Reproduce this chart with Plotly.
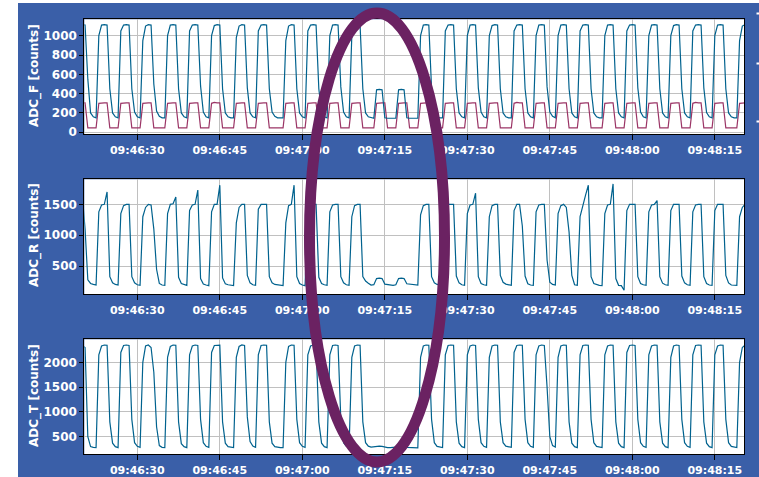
import numpy as np
import pandas as pd
import plotly.graph_objects as go

# ---------------- data (sampled every 0.5 s from 09:46:20.0) ----------------
START = "2010-06-01 09:46:20"
STEP_S = 0.5
X_RANGE = ["2010-06-01 09:46:20.36", "2010-06-01 09:48:20.36"]
TICK0 = "2010-06-01 09:46:00"

adc_f = [
    1115, 1110, 550, 200, 160, 150,
    1000, 1110, 1115, 1110, 450, 200, 160, 150,
    1050, 1110, 1115, 1110, 450, 210, 160, 150,
    950, 1100, 1115, 1110, 500, 220, 165, 150, 150,
    1000, 1110, 1115, 1110, 450, 200, 160, 150,
    1050, 1110, 1115, 1110, 480, 210, 160, 150,
    1000, 1105, 1115, 1110, 450, 200, 160, 150, 150,
    980, 1100, 1115, 1110, 460, 200, 160, 150,
    1050, 1110, 1115, 1110, 450, 210, 165, 150, 150, 150,
    950, 1100, 1115, 1110, 450, 200, 160, 150,
    1050, 1110, 1115, 1110, 450, 200, 160, 150,
    1000, 1110, 1115, 1110, 470, 210, 160, 150,
    1000, 1110, 1115, 1110, 450, 200, 160, 150, 145,
    440, 445, 440, 150, 145, 145, 145, 145,
    440, 445, 440, 150, 145, 145, 145, 145,
    1000, 1110, 1115, 1110, 450, 200, 160, 150, 150,
    1050, 1110, 1115, 1110, 450, 200, 160, 150,
    1000, 1110, 1115, 1110, 460, 210, 160, 150,
    1000, 1105, 1115, 1110, 450, 200, 160, 150, 150,
    1050, 1110, 1115, 1110, 450, 200, 160, 150,
    1000, 1110, 1115, 1110, 470, 210, 165, 150,
    1000, 1110, 1115, 1110, 450, 200, 160, 150,
    1050, 1110, 1115, 1110, 450, 200, 160, 150, 150,
    1000, 1110, 1115, 1110, 450, 200, 160, 150,
    1050, 1110, 1115, 1110, 460, 210, 160, 150,
    1000, 1110, 1115, 1110, 450, 200, 160, 150,
    1000, 1105, 1115, 1110, 450, 200, 160, 150,
    1050, 1110, 1115, 1110, 460, 205, 160, 150,
    1000, 1110, 1115, 1110, 450, 200, 160, 150, 150,
    950, 1100, 1115, 1110,
]

adc_f_ref = [
    305, 305, 45, 45, 45, 45,
    300, 305, 305, 305, 45, 45, 45, 45,
    300, 305, 305, 305, 45, 45, 45, 45,
    300, 305, 305, 305, 45, 45, 45, 45, 45,
    300, 305, 305, 305, 45, 45, 45, 45,
    300, 305, 305, 305, 45, 45, 45, 45,
    300, 310, 305, 305, 45, 45, 45, 45, 45,
    300, 305, 305, 305, 45, 45, 45, 45,
    300, 305, 305, 305, 45, 45, 45, 45, 45, 45,
    300, 305, 305, 305, 45, 45, 45, 45,
    300, 305, 305, 305, 45, 45, 45, 45,
    300, 305, 305, 305, 45, 45, 45, 45,
    300, 305, 305, 305, 45, 45, 45, 45, 45,
    300, 305, 305, 305, 45, 45, 45, 45,
    300, 305, 305, 305, 45, 45, 45, 45,
    300, 305, 305, 305, 45, 45, 45, 45, 45,
    300, 305, 305, 305, 45, 45, 45, 45,
    300, 305, 305, 305, 45, 45, 45, 45,
    300, 305, 305, 305, 45, 45, 45, 45, 45,
    300, 310, 305, 305, 45, 45, 45, 45,
    300, 305, 305, 305, 45, 45, 45, 45,
    300, 305, 305, 305, 45, 45, 45, 45,
    300, 305, 305, 305, 45, 45, 45, 45, 45,
    300, 305, 305, 305, 45, 45, 45, 45,
    300, 305, 305, 305, 45, 45, 45, 45,
    300, 305, 305, 305, 45, 45, 45, 45,
    300, 305, 305, 305, 45, 45, 45, 45,
    300, 310, 305, 305, 45, 45, 45, 45,
    300, 305, 305, 305, 45, 45, 45, 45, 45,
    300, 305, 305, 305,
]

adc_r = [
    1650, 1100, 280, 220, 205, 195,
    1380, 1490, 1500, 1700, 330, 230, 205, 195,
    1350, 1480, 1500, 1500, 330, 230, 200, 190,
    1300, 1450, 1500, 1490, 1100, 450, 220, 195, 190,
    1350, 1500, 1510, 1620, 320, 220, 200, 190,
    1400, 1490, 1500, 1730, 300, 210, 195, 185,
    1380, 1500, 1500, 1810, 310, 215, 200, 190, 185,
    1200, 1450, 1500, 1500, 350, 230, 200, 190,
    1420, 1500, 1500, 1500, 330, 230, 205, 195, 190, 185,
    1200, 1480, 1500, 1810, 330, 220, 195, 185,
    1400, 1500, 1500, 1500, 320, 220, 200, 190,
    1380, 1490, 1500, 1500, 330, 230, 200, 190,
    1300, 1480, 1500, 1500, 330, 260, 225, 195, 200,
    300, 305, 300, 210, 205, 200, 190, 200,
    300, 305, 300, 215, 210, 205, 200, 195,
    1330, 1480, 1500, 1500, 330, 230, 205, 195, 190,
    1400, 1500, 1500, 1500, 340, 230, 200, 190,
    1350, 1490, 1500, 1680, 330, 220, 200, 190,
    1300, 1480, 1500, 1500, 350, 240, 210, 195, 190,
    1400, 1500, 1500, 1150, 340, 215, 195, 190,
    1380, 1490, 1500, 1500, 600, 240, 205, 195,
    1350, 1480, 1500, 1450, 1050, 350, 200, 190,
    1300, 1500, 1650, 1810, 330, 220, 200, 190, 185,
    1350, 1490, 1500, 1830, 300, 190, 185, 110,
    1400, 1500, 1500, 1500, 330, 220, 200, 190,
    1380, 1490, 1500, 1560, 330, 225, 200, 190,
    1400, 1500, 1500, 1500, 340, 230, 200, 190,
    1380, 1490, 1500, 1500, 330, 220, 195, 190,
    1400, 1500, 1500, 1500, 350, 230, 195, 190, 190,
    1300, 1450, 1500, 1500,
]

adc_t = [
    2340, 2300, 500, 300, 285, 280,
    2150, 2330, 2350, 2345, 800, 370, 300, 280,
    2200, 2340, 2350, 2340, 850, 380, 305, 285,
    2000, 2330, 2350, 2300, 1800, 700, 320, 285, 280,
    2100, 2320, 2350, 2345, 800, 360, 300, 280,
    2150, 2330, 2350, 2340, 850, 380, 305, 285,
    2200, 2340, 2350, 2345, 800, 370, 300, 285, 280,
    2100, 2320, 2350, 2340, 900, 400, 310, 285,
    2150, 2340, 2350, 2345, 800, 370, 300, 285, 280, 280,
    2000, 2320, 2350, 2345, 850, 380, 305, 285,
    2150, 2330, 2350, 2345, 800, 370, 300, 280,
    2150, 2340, 2350, 2340, 850, 380, 305, 285,
    2100, 2330, 2350, 2345, 800, 380, 310, 290, 300,
    310, 310, 305, 285, 280, 280, 285, 300,
    310, 310, 305, 285, 280, 280, 275, 275,
    2100, 2330, 2350, 2345, 850, 380, 305, 285, 280,
    2150, 2340, 2350, 2345, 800, 370, 300, 280,
    2150, 2330, 2350, 2340, 850, 380, 305, 285,
    2100, 2330, 2350, 2345, 800, 380, 310, 290, 285,
    2200, 2340, 2350, 2345, 850, 380, 305, 285,
    2150, 2330, 2350, 2340, 1500, 500, 320, 290,
    2100, 2330, 2350, 2345, 800, 370, 300, 280,
    2150, 2340, 2350, 2345, 850, 380, 305, 285, 280,
    2150, 2330, 2350, 2345, 800, 370, 300, 280,
    2200, 2340, 2350, 2340, 850, 380, 305, 285,
    2150, 2330, 2350, 2345, 800, 370, 300, 280,
    2100, 2330, 2350, 2340, 850, 380, 305, 285,
    2150, 2340, 2350, 2345, 800, 370, 300, 280,
    2150, 2330, 2350, 2345, 850, 380, 305, 285, 280,
    2000, 2300, 2350, 2350,
]

panel_titles = ["ADC_F [counts]", "ADC_R [counts]", "ADC_T [counts]"]
y_ranges = [[-21, 1170], [45, 1905], [145, 2465]]
y_dticks = [200, 500, 500]

# ---------------- styling ----------------
W, H = 759, 477
BG_BLUE = "#3A5FA8"
LINE_BLUE = "#00628E"
LINE_RED = "#9B3566"
GRID = "#C0C0C0"
FONT = "DejaVu Sans"


def times(values):
    return pd.Timestamp(START) + pd.to_timedelta(np.arange(len(values)) * STEP_S, unit="s")


def px_x(p):
    return p / W


def px_y(p):
    return 1 - p / H


# plot-area boxes in pixels: (left, right, top, bottom)
boxes = [(84.3, 744.3, 19.3, 134.3), (84.3, 744.3, 179.3, 294.3), (84.3, 744.3, 339.3, 454.3)]

fig = go.Figure()
fig.add_trace(go.Scatter(x=times(adc_f_ref), y=adc_f_ref, mode="lines",
                         line=dict(color=LINE_RED, width=1.2), xaxis="x", yaxis="y"))
fig.add_trace(go.Scatter(x=times(adc_f), y=adc_f, mode="lines",
                         line=dict(color=LINE_BLUE, width=1.2), xaxis="x", yaxis="y"))
fig.add_trace(go.Scatter(x=times(adc_r), y=adc_r, mode="lines",
                         line=dict(color=LINE_BLUE, width=1.2), xaxis="x2", yaxis="y2"))
fig.add_trace(go.Scatter(x=times(adc_t), y=adc_t, mode="lines",
                         line=dict(color=LINE_BLUE, width=1.2), xaxis="x3", yaxis="y3"))

xtickfont = dict(family=FONT, size=11, color="white", weight="bold")
ytickfont = dict(family=FONT, size=12, color="white", weight="bold")
layout = dict(
    width=W, height=H,
    margin=dict(l=0, r=0, t=0, b=0),
    paper_bgcolor=BG_BLUE, plot_bgcolor="white",
    showlegend=False,
)
annotations = []
for k, (l, r, t, b) in enumerate(boxes):
    sx = "" if k == 0 else str(k + 1)
    layout["xaxis" + sx] = dict(
        type="date", domain=[px_x(l), px_x(r)], anchor="y" + sx, range=X_RANGE,
        tick0=TICK0, dtick=15000, tickformat="%H:%M:%S",
        showgrid=True, gridcolor=GRID, gridwidth=1, zeroline=False,
        showline=True, linecolor="black", linewidth=1, mirror=True,
        ticks="outside", ticklen=5, tickcolor="black", tickfont=xtickfont,
        automargin=False,
    )
    layout["yaxis" + sx] = dict(
        domain=[px_y(b), px_y(t)], anchor="x" + sx, range=y_ranges[k],
        tick0=0, dtick=y_dticks[k],
        showgrid=True, gridcolor=GRID, gridwidth=1, zeroline=False,
        showline=True, linecolor="black", linewidth=1, mirror=True,
        ticks="outside", ticklen=4, tickcolor="black", tickfont=ytickfont,
        automargin=False,
    )
    annotations.append(dict(
        text=panel_titles[k], textangle=-90, showarrow=False,
        xref="paper", yref="paper", x=px_x(34.7), y=px_y((t + b) / 2 - 1.5),
        xanchor="center", yanchor="middle",
        font=dict(family=FONT, size=12, color="white", weight="bold"),
    ))
layout["annotations"] = annotations

shapes = [
    # white page margins around the blue panel
    dict(type="rect", xref="paper", yref="paper", x0=0, x1=px_x(18), y0=0, y1=1,
         fillcolor="white", line=dict(width=0), layer="below"),
    dict(type="rect", xref="paper", yref="paper", x0=0, x1=1, y0=px_y(3), y1=1,
         fillcolor="white", line=dict(width=0), layer="below"),
]
for yy in (13.5, 63.5, 121.5):
    shapes.append(dict(type="line", xref="paper", yref="paper", x0=px_x(756.5), x1=1,
                       y0=px_y(yy), y1=px_y(yy), line=dict(color="white", width=2)))
# highlight ellipse
shapes.append(dict(type="circle", xref="paper", yref="paper",
                   x0=px_x(309.5), x1=px_x(444.5), y0=px_y(462), y1=px_y(13),
                   line=dict(color="#6B2262", width=11), layer="above"))
layout["shapes"] = shapes

fig.update_layout(**layout)
fig.write_html(
    "out.html",
    config={"displayModeBar": False},
    post_script="document.body.style.margin='0';document.body.style.overflow='hidden';",
)
